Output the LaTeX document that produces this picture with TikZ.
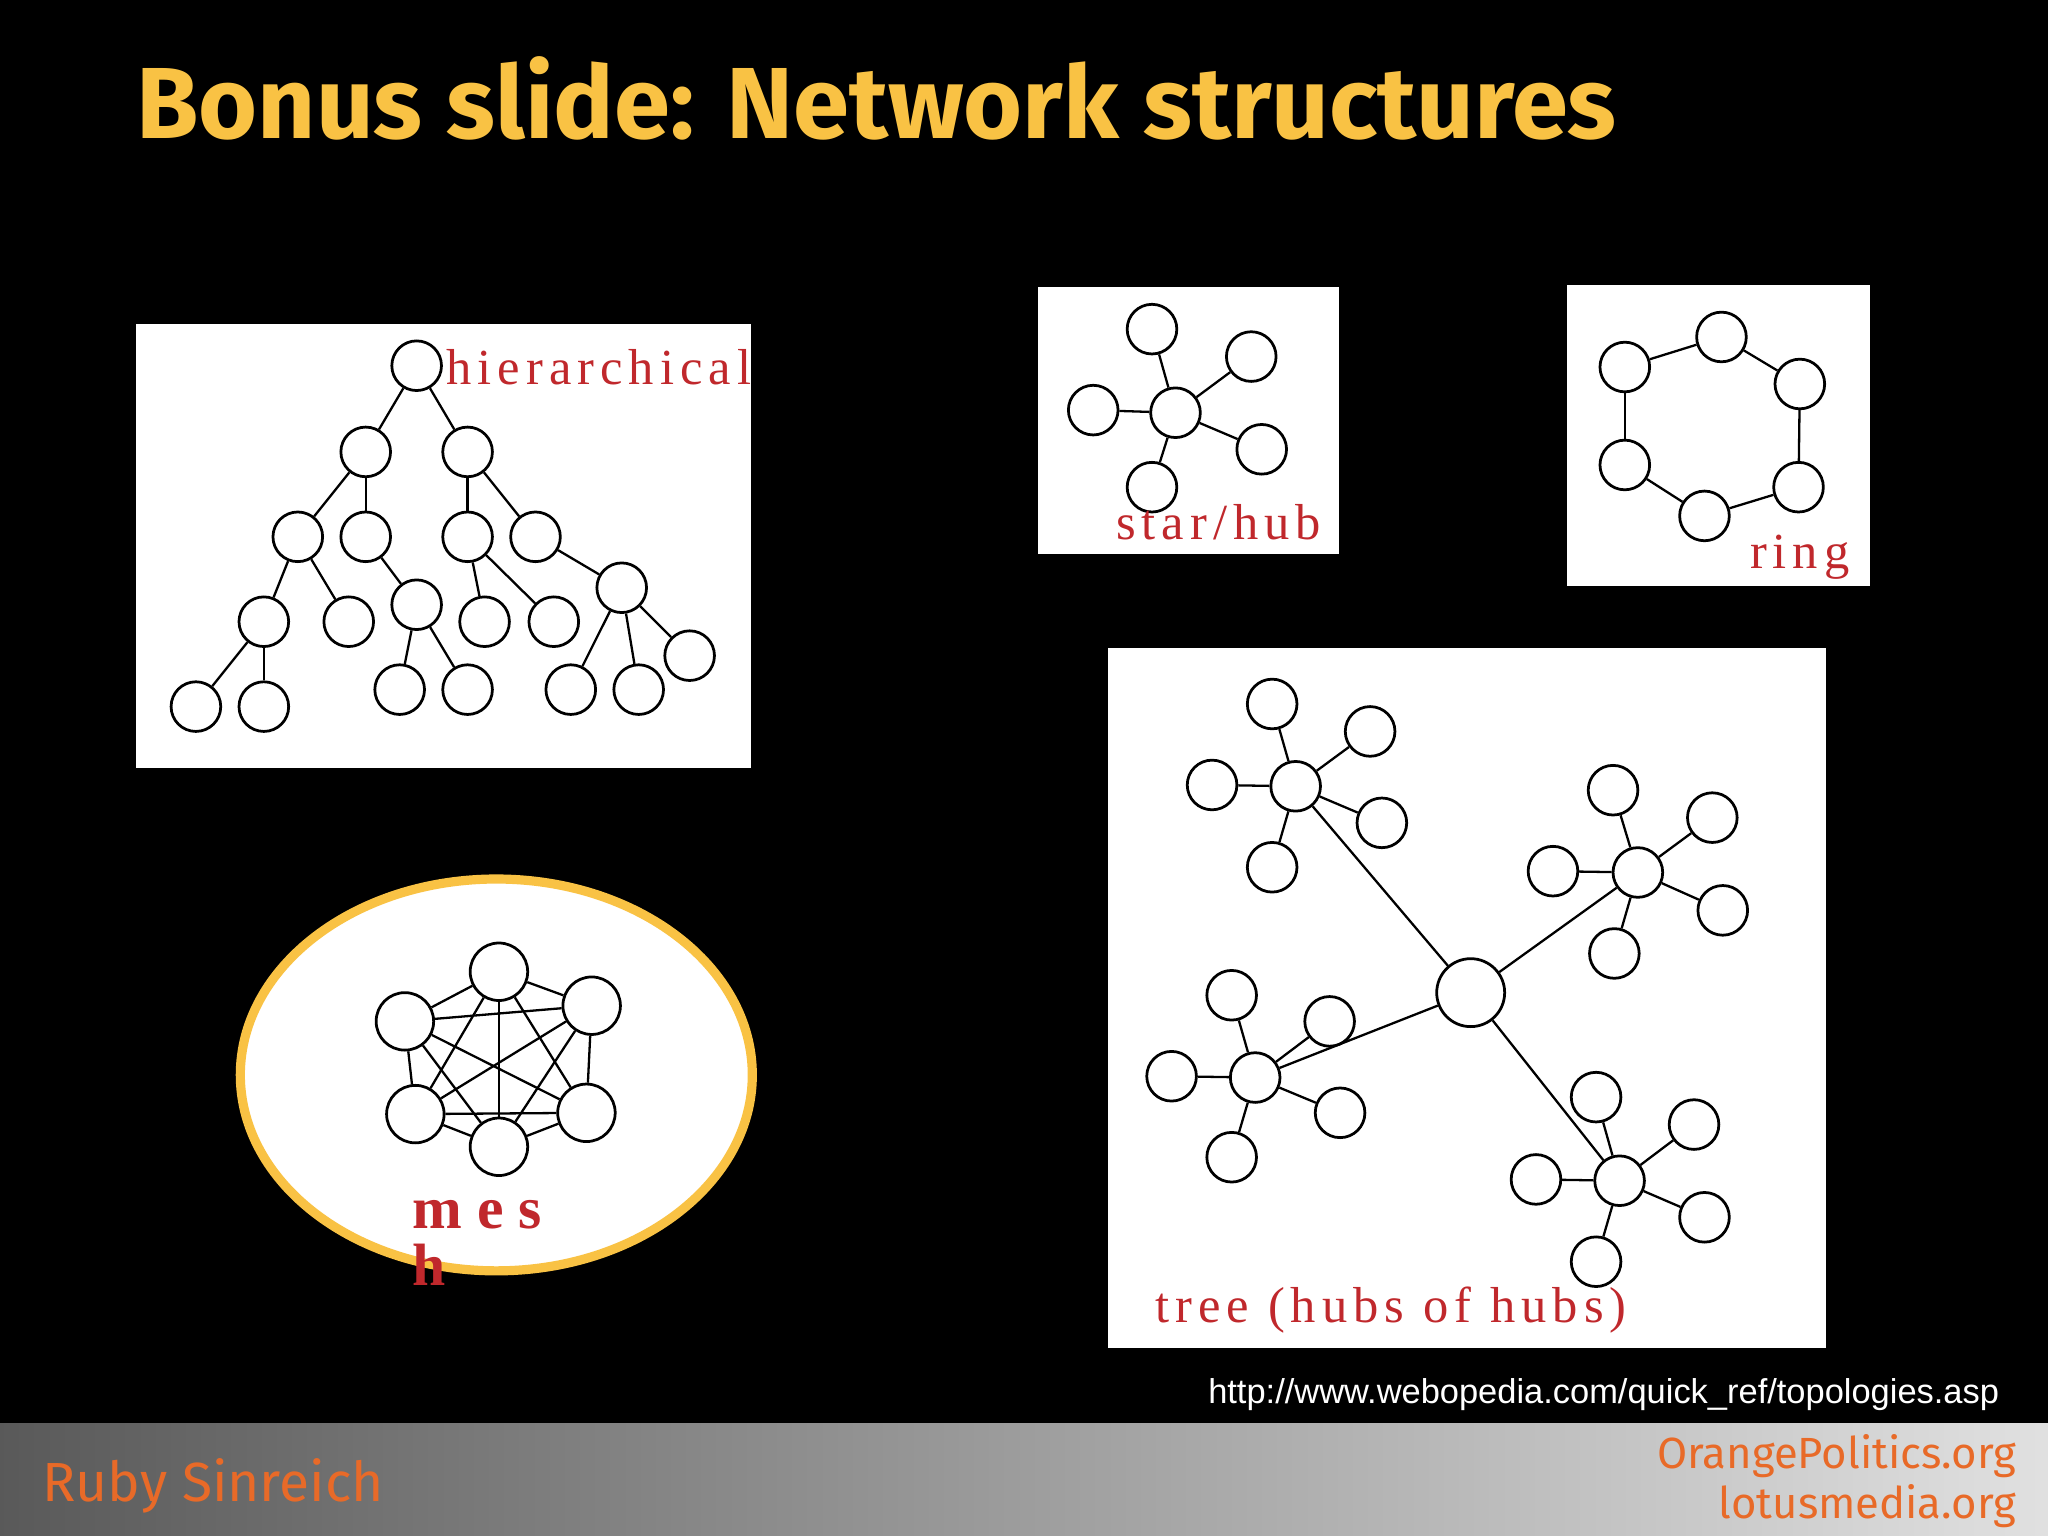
\documentclass[tikz,border=0pt]{standalone}
\usepackage{fontspec}
\setmainfont{Liberation Serif}
\newfontfamily\titlefont{Fira Sans}
\newfontfamily\urlfont{Liberation Sans}
\newfontfamily\labfont[LetterSpace=12]{Liberation Serif}
\definecolor{ttl}{HTML}{F9C244}
\definecolor{lab}{HTML}{C0282C}
\definecolor{org}{HTML}{E86A28}
\begin{document}
\begin{tikzpicture}[x=0.01cm,y=-0.01cm,
  nd/.style={circle,draw=black,fill=white,line width=0.6pt,minimum size=0.38cm,inner sep=0pt},
  bignd/.style={nd,minimum size=0.52cm},
  ed/.style={draw=black,line width=0.5pt},
  panel/.style={fill=white,draw=none},
  lbl/.style={text=lab,font=\labfont\fontsize{11}{12}\selectfont,inner sep=0pt}]
\fill[black] (0,0) rectangle (1568,1176);
\useasboundingbox (0,0) rectangle (1568,1176);
\shade[left color=black!65,right color=black!12] (0,1090) rectangle (1568,1176);
\node[text=ttl,font=\titlefont\bfseries\fontsize{22}{26}\selectfont,anchor=west] (title) at (92,75) {Bonus slide: Network structures};
\node[text=org,font=\titlefont\fontsize{12}{14}\selectfont,anchor=west] (auth) at (20,1138) {Ruby Sinreich};
\node[text=org,font=\titlefont\fontsize{9.5}{11}\selectfont,anchor=east,align=right] (site) at (1556,1134) {OrangePolitics.org\\lotusmedia.org};
\node[text=white,font=\urlfont\fontsize{7.5}{9}\selectfont,anchor=east] (url) at (1543,1068) {http://www.webopedia.com/quick\_ref/topologies.asp};
% hierarchical
\fill[panel] (104,248) rectangle (575,588);
\foreach \n/\x/\y in {r/319/280,a/280/346,b/358/346,c/228/411,d/280/411,e/358/411,f/410/411,g/202/476,h/267/476,i/319/463,j/371/476,k/424/476,l/476/450,m/150/541,n/202/541,o/306/528,p/358/528,q/437/528,s/489/528,t/528/502}
  \node[nd] (h\n) at (\x,\y) {};
\foreach \u/\v in {r/a,r/b,a/c,a/d,b/e,b/f,c/g,c/h,d/i,e/j,e/k,f/l,g/m,g/n,i/o,i/p,l/q,l/s,l/t}
  \draw[ed] (h\u) -- (h\v);
\node[lbl,anchor=west] (hl) at (341,281) {hierarchical};
% star
\fill[panel] (795,220) rectangle (1025,424);
\node[nd] (s0) at (900,316) {};
\foreach \n/\x/\y in {1/882/252,2/958/273,3/966/344,4/882/373,5/837/314}
  {\node[nd] (s\n) at (\x,\y) {}; \draw[ed] (s0) -- (s\n);}
\node[lbl] (sl) at (933,400) {star/hub};
% ring
\fill[panel] (1200,218) rectangle (1432,449);
\foreach \n/\x/\y in {1/1318/258,2/1378/294,3/1377/373,4/1305/395,5/1244/356,6/1244/281}
  \node[nd] (r\n) at (\x,\y) {};
\foreach \u/\v in {1/2,2/3,3/4,4/5,5/6,6/1} \draw[ed] (r\u) -- (r\v);
\node[lbl] (rl) at (1378,427) {ring};
% mesh
\draw[fill=white,draw=ttl,line width=2pt] (380,823) ellipse [x radius=196,y radius=150];
\foreach \n/\x/\y in {1/382/744,2/453/770,3/449/852,4/382/878,5/318/853,6/310/782}
  \node[nd,minimum size=0.44cm] (m\n) at (\x,\y) {};
\foreach \u/\v in {1/2,1/3,1/4,1/5,1/6,2/3,2/4,2/5,2/6,3/4,3/5,3/6,4/5,4/6,5/6}
  \draw[ed] (m\u) -- (m\v);
\node[text=lab,font=\bfseries\fontsize{13}{14}\selectfont,inner sep=0pt,anchor=west] (ml1) at (315,930) {m e s};
\node[text=lab,font=\bfseries\fontsize{13}{14}\selectfont,inner sep=0pt,anchor=west] (ml2) at (315,968) {h};
% tree
\fill[panel] (848,496) rectangle (1398,1032);
\node[bignd] (t0) at (1126,760) {};
\foreach \h/\x/\y in {A/992/602,B/1254/668,C/961/825,D/1240/904}
  {\node[nd] (t\h) at (\x,\y) {}; \draw[ed] (t0) -- (t\h);}
\foreach \h/\n/\x/\y in {A/1/974/539,A/2/1049/560,A/3/1058/630,A/4/974/664,A/5/928/601,
  B/1/1235/605,B/2/1311/626,B/3/1319/697,B/4/1236/730,B/5/1189/667,
  C/1/943/762,C/2/1018/782,C/3/1026/852,C/4/943/886,C/5/897/824,
  D/1/1222/840,D/2/1297/861,D/3/1305/932,D/4/1222/966,D/5/1176/903}
  {\node[nd] (t\h\n) at (\x,\y) {}; \draw[ed] (t\h) -- (t\h\n);}
\node[lbl,anchor=west] (tl) at (884,1003) {tree (hubs of hubs)};
\end{tikzpicture}
\end{document}
